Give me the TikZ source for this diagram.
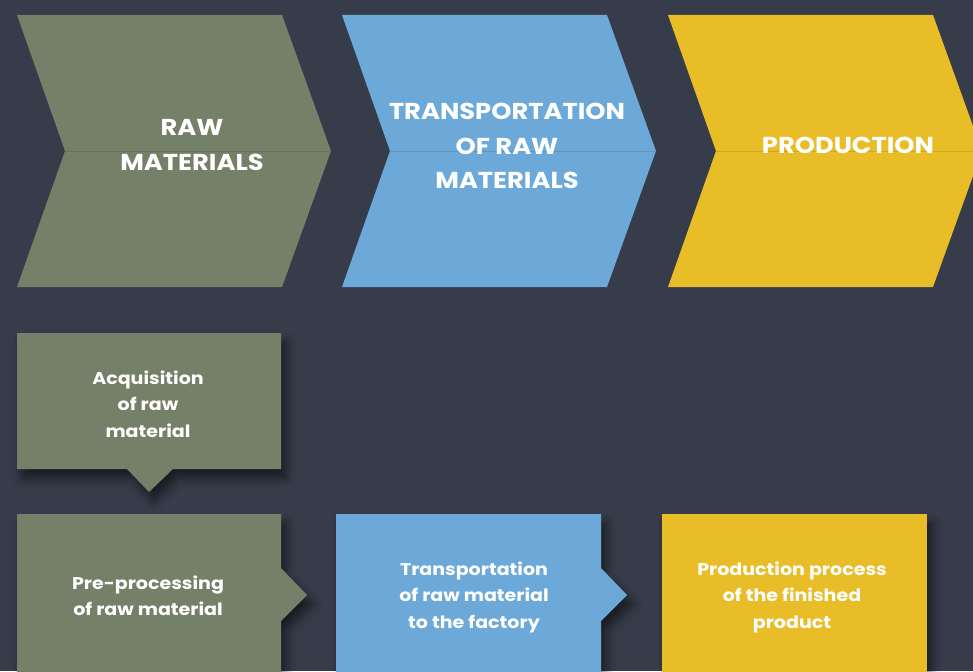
\documentclass[tikz,border=0pt]{standalone}
\usepackage{fontspec}
\setmainfont{Poppins}[FakeStretch=1.12]
\usetikzlibrary{shadows.blur}
\definecolor{bg}{HTML}{363C4A}
\definecolor{grn}{HTML}{748067}
\definecolor{blu}{HTML}{6CA9D9}
\definecolor{yel}{HTML}{E9BD27}
\tikzset{
  chevtext/.style={text=white, inner sep=0pt, align=center, font=\bfseries\fontsize{23}{34.5}\selectfont},
  boxtext/.style={text=white, inner sep=0pt, align=center, font=\bfseries\fontsize{17}{26.5}\selectfont},
  boxshadow/.style={blur shadow={shadow xshift=5pt, shadow yshift=-9pt, shadow blur radius=9pt, shadow opacity=55}},
}
\begin{document}
\begin{tikzpicture}[x=1pt,y=-1pt]
\fill[bg] (0,0) rectangle (973,671);
\useasboundingbox (0,0) rectangle (973,671);
\clip (0,0) rectangle (973,671);
% chevrons
\foreach \x/\c in {17/grn,342/blu,668/yel}{
  \fill[\c] (\x,15) -- ++(265,0) -- ++(49,136) -- ++(-49,136) -- ++(-265,0) -- ++(48,-136) -- cycle;
  \draw[\c!88!black, line width=0.5pt] (\x+48,151) -- (\x+314,151);
}
\node[chevtext] (t1) at (192,145) {RAW\\MATERIALS};
\node[chevtext] (t2) at (507,146) {TRANSPORTATION\\OF RAW\\MATERIALS};
\node[chevtext] (t3) at (848,145) {PRODUCTION};
% boxes
\fill[grn, boxshadow] (17,333) -- (281,333) -- (281,469) -- (173,469) -- (149,492) -- (127,469) -- (17,469) -- cycle;
\fill[grn, boxshadow] (17,514) -- (281,514) -- (281,568) -- (307,595) -- (281,621) -- (281,690) -- (17,690) -- cycle;
\fill[blu, boxshadow] (336,514) -- (601,514) -- (601,568) -- (627,595) -- (601,621) -- (601,690) -- (336,690) -- cycle;
\fill[yel, boxshadow] (662,514) -- (927,514) -- (927,690) -- (662,690) -- cycle;
\node[boxtext] (b1) at (148,404) {Acquisition\\of raw\\material};
\node[boxtext] (b2) at (148,596) {Pre-processing\\of raw material};
\node[boxtext] (b3) at (474,597) {Transportation\\of raw material\\to the factory};
\node[boxtext] (b4) at (792,597) {Production process\\of the finished\\product};
\end{tikzpicture}
\end{document}
